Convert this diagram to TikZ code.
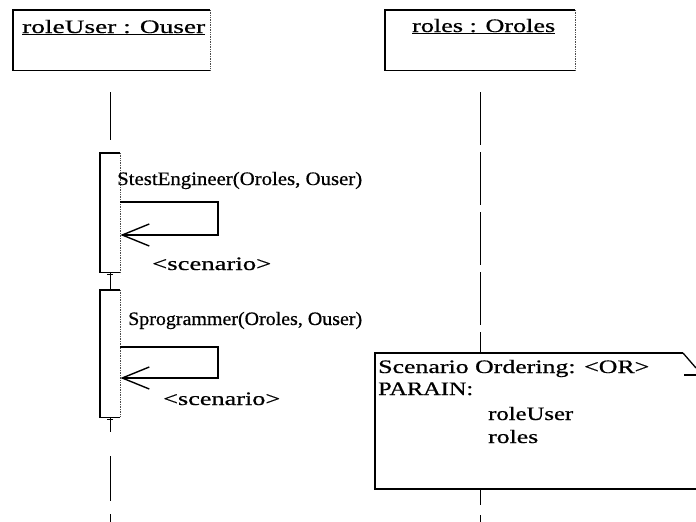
\documentclass[tikz,border=0pt]{standalone}
\usepackage{graphicx}
\usepackage{fontspec}
\setmainfont{Liberation Serif}[FakeBold=0.6]
\usetikzlibrary{arrows.meta}
\newcommand\strto[2]{\resizebox{#1}{\height}{#2}}
\begin{document}
\begin{tikzpicture}[x=1pt,y=-1pt,
  txt/.style={font=\fontsize{19}{22}\selectfont, inner sep=0pt, anchor=base west},
  solidedge/.style={line width=1.3pt},
  faintedge/.style={line width=0.7pt, densely dotted, black!70},
  lifeline/.style={line width=1.4pt},
  bar/.style={minimum width=20pt, inner sep=0pt, anchor=north west},
  msg/.style={line width=1.4pt, -{Straight Barb[length=27pt,width=22pt,line width=1.4pt]}}]
\useasboundingbox (0,0) rectangle (696,522);
% object boxes
\node (u) [bar, minimum width=197pt, minimum height=60pt] at (13,10) {};
\draw[solidedge] (u.north east) -- (u.north west) -- (u.south west) -- (u.south east);
\draw[faintedge] (u.north east) -- (u.south east);
\node (ut) [txt] at (22,33) {\strto{183pt}{\underline{roleUser : Ouser}}};
\node (r) [bar, minimum width=190pt, minimum height=60pt] at (385,10) {};
\draw[solidedge] (r.north east) -- (r.north west) -- (r.south west) -- (r.south east);
\draw[faintedge] (r.north east) -- (r.south east);
\node (rt) [txt] at (412,32) {\strto{143pt}{\underline{roles : Oroles}}};
% activation bars
\node (a1) [bar, minimum height=119pt] at (100,153) {};
\node (a2) [bar, minimum height=127pt] at (100,290) {};
\foreach \a in {a1,a2}{
  \draw[solidedge] (\a.north east) -- (\a.north west) -- (\a.south west) -- (\a.south east);
  \draw[faintedge] (\a.north east) -- (\a.south east);
}
% lifeline of roleUser
\draw[lifeline] (u.south -| a1.north) ++(0,22) -- ++(0,48);
\draw[lifeline] (a1.south) -- (a2.north);
\draw[lifeline] ([xshift=-3pt]a1.south) ++(0,2) -- ++(6,0);
\draw[lifeline, dash pattern=on 15pt off 24pt on 45pt off 13pt] (a2.south) -- (a2.south |- 0,522);
\draw[lifeline] ([xshift=-3pt]a2.south) ++(0,2) -- ++(6,0);
% note
\coordinate (nl) at (375,353);
\draw[solidedge] (683,353) -- (nl) -- (375,489) -- (696,489);
\draw[solidedge] (683,353) -- (696,368);
\draw[solidedge] (684,375) -- (696,375);
\node (n1) [txt] at (378,373) {\strto{271pt}{Scenario Ordering: <OR>}};
\node (n2) [txt] at (378,395) {\strto{95pt}{PARAIN:}};
\node (n3) [txt] at (488,420) {\strto{85pt}{roleUser}};
\node (n4) [txt] at (488,443) {\strto{50pt}{roles}};
% lifeline of roles
\draw[lifeline, dash pattern=on 53pt off 7pt] (r.south) ++(0,22) -- (r.south |- nl);
\draw[lifeline, dash pattern=on 16pt off 10pt] (r.south |- 0,489) -- (r.south |- 0,522);
% self messages
\node (m1) [txt] at (117,185) {\strto{245pt}{StestEngineer(Oroles, Ouser)}};
\draw[msg] (a1.east |- 0,202) -- (218,202) -- (218,235) -- (a1.east |- 0,235);
\node (s1) [txt] at (152,270) {\strto{119pt}{<scenario>}};
\node (m2) [txt] at (128,325) {\strto{234pt}{Sprogrammer(Oroles, Ouser)}};
\draw[msg] (a2.east |- 0,347) -- (218,347) -- (218,378) -- (a2.east |- 0,378);
\node (s2) [txt] at (163,405) {\strto{117pt}{<scenario>}};
\end{tikzpicture}
\end{document}
